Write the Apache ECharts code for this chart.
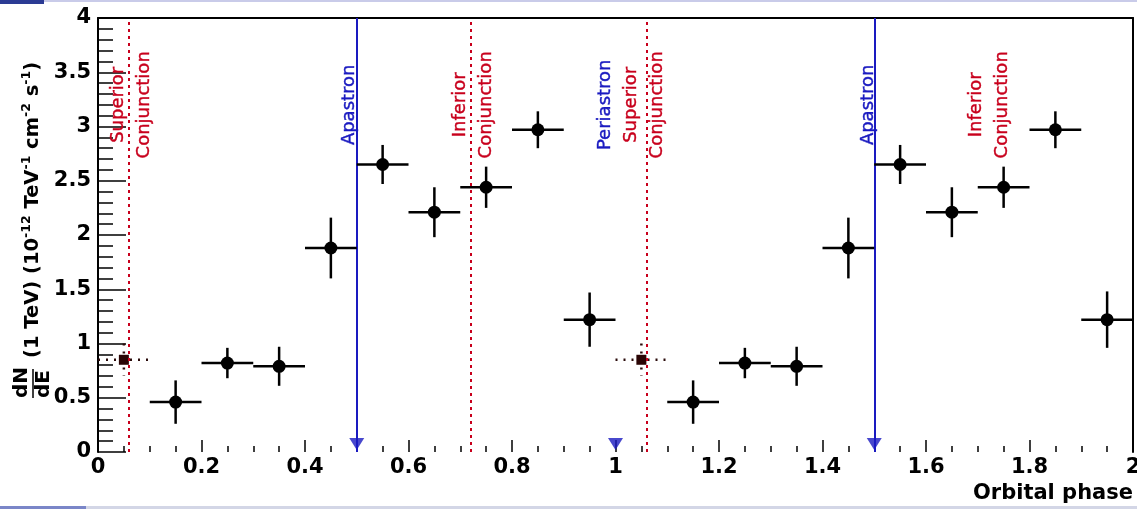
<!DOCTYPE html>
<html>
<head>
<meta charset="utf-8">
<script src="https://cdn.jsdelivr.net/npm/echarts@6/dist/echarts.min.js"></script>
<style>
  html, body { margin: 0; padding: 0; background: #ffffff; }
  #chart { width: 1137px; height: 509px; }
</style>
</head>
<body>
<div id="chart"></div>
<script>
// Phase-folded light curve: differential flux at 1 TeV, plotted over two orbits
const binPhase = [0.15, 0.25, 0.35, 0.45, 0.55, 0.65, 0.75, 0.85, 0.95,
                  1.15, 1.25, 1.35, 1.45, 1.55, 1.65, 1.75, 1.85, 1.95];
const binFlux  = [0.46, 0.82, 0.79, 1.88, 2.65, 2.21, 2.44, 2.97, 1.22,
                  0.46, 0.82, 0.79, 1.88, 2.65, 2.21, 2.44, 2.97, 1.22];
const binFluxErr = [0.20, 0.14, 0.18, 0.28, 0.18, 0.23, 0.19, 0.17, 0.25,
                    0.20, 0.14, 0.18, 0.28, 0.18, 0.23, 0.19, 0.17, 0.26];
const binHalfWidth = 0.05;

// Bins around superior conjunction with sparse coverage
const sparsePhase = [0.05, 1.05];
const sparseFlux = [0.85, 0.85];
const sparseFluxErr = [0.15, 0.15];

// Orbital reference phases
const conjunctionPhases = [0.062, 0.716, 1.062];
const apastronPhases = [0.5, 1.5];
const arrowPhases = [0.5, 1.0, 1.5];

// Rotated annotations
const noteText = ['Superior\nConjunction', 'Apastron', 'Inferior\nConjunction', 'Periastron',
                  'Superior\nConjunction', 'Apastron', 'Inferior\nConjunction'];
const notePhase = [0.065, 0.485, 0.725, 0.980, 1.056, 1.488, 1.722];
const noteIsOrbitPoint = [false, true, false, true, false, true, false];
const noteLevel = 3.2;

const xTicks = { min: 0, max: 2, step: 0.2 };
const yTicks = { min: 0, max: 4, step: 0.5 };

const RED = '#c8001c';
const BLUE = '#1a1ac0';
const FONT = '"DejaVu Sans", "Liberation Sans", sans-serif';

const chart = echarts.init(document.getElementById('chart'), null, { renderer: 'canvas' });

function errorBarItem(dotted, radius) {
  return function (params, api) {
    const x = api.value(0), y = api.value(1), e = api.value(2);
    const c = api.coord([x, y]);
    const l = api.coord([x - binHalfWidth, y]);
    const r = api.coord([x + binHalfWidth, y]);
    const t = api.coord([x, y + e]);
    const b = api.coord([x, y - e]);
    const lineStyle = dotted
      ? { stroke: '#2a0a0a', lineWidth: 2.5, lineDash: [2, 6] }
      : { stroke: '#000', lineWidth: 2.5 };
    const marker = dotted
      ? { type: 'rect', shape: { x: c[0] - 5, y: c[1] - 5, width: 10, height: 10 }, style: { fill: '#2a0505' } }
      : { type: 'circle', shape: { cx: c[0], cy: c[1], r: radius }, style: { fill: '#000' } };
    return {
      type: 'group',
      children: [
        { type: 'line', shape: { x1: l[0], y1: l[1], x2: r[0], y2: r[1] }, style: lineStyle },
        { type: 'line', shape: { x1: t[0], y1: t[1], x2: b[0], y2: b[1] }, style: lineStyle },
        marker
      ]
    };
  };
}

const option = {
  backgroundColor: '#ffffff',
  animation: false,
  grid: { left: 98, right: 4, top: 18, bottom: 57, containLabel: false, outerBoundsMode: 'none' },
  xAxis: [{
    type: 'value',
    min: xTicks.min, max: xTicks.max, interval: xTicks.step,
    name: 'Orbital phase',
    nameLocation: 'end',
    nameGap: 0,
    nameMoveOverlap: false,
    nameTextStyle: { fontFamily: FONT, fontWeight: 'bold', fontSize: 21, color: '#000',
                     align: 'right', verticalAlign: 'top', padding: [31, 0, 0, 0] },
    axisLine: { show: false },
    axisTick: { show: true, inside: true, length: 12, lineStyle: { color: '#000', width: 1.5 } },
    minorTick: { show: true, splitNumber: 4, length: 6, lineStyle: { color: '#000', width: 1.5 } },
    axisLabel: { fontFamily: FONT, fontWeight: 'bold', fontSize: 21, color: '#000', margin: 5 },
    splitLine: { show: false }
  }, {
    type: 'value', position: 'top',
    min: xTicks.min, max: xTicks.max, interval: xTicks.step,
    axisLine: { show: true, onZero: false, lineStyle: { color: '#000', width: 2 } },
    axisTick: { show: false }, axisLabel: { show: false }, splitLine: { show: false }
  }],
  yAxis: [{
    type: 'value',
    min: yTicks.min, max: yTicks.max, interval: yTicks.step,
    axisLine: { show: true, onZero: false, lineStyle: { color: '#000', width: 2 } },
    axisTick: { show: true, inside: true, length: 28, lineStyle: { color: '#000', width: 1.5 } },
    minorTick: { show: true, splitNumber: 5, length: 15, lineStyle: { color: '#000', width: 1.5 } },
    axisLabel: { fontFamily: FONT, fontWeight: 'bold', fontSize: 21, color: '#000', margin: 7 },
    splitLine: { show: false }
  }, {
    type: 'value', position: 'right',
    min: yTicks.min, max: yTicks.max, interval: yTicks.step,
    axisLine: { show: true, onZero: false, lineStyle: { color: '#000', width: 2 } },
    axisTick: { show: false }, axisLabel: { show: false }, splitLine: { show: false }
  }],
  series: [
    {
      name: 'reference lines',
      type: 'line',
      data: [],
      markLine: {
        silent: true,
        symbol: 'none',
        label: { show: false },
        data: conjunctionPhases.map(p => ({ xAxis: p, lineStyle: { color: RED, width: 2, type: [3, 4] } }))
          .concat(apastronPhases.map(p => ({ xAxis: p, lineStyle: { color: BLUE, width: 2, type: 'solid' } })))
      }
    },
    {
      name: 'notes',
      type: 'custom',
      z: 3,
      data: notePhase.map((p, i) => [p, noteLevel, i]),
      renderItem: function (params, api) {
        const i = api.value(2);
        const pt = api.coord([api.value(0), api.value(1)]);
        return {
          type: 'text',
          x: pt[0], y: pt[1],
          rotation: Math.PI / 2,
          style: {
            text: noteText[i],
            fill: noteIsOrbitPoint[i] ? BLUE : RED,
            fontFamily: FONT,
            fontSize: 18,
            lineHeight: 26,
            align: 'center',
            verticalAlign: 'middle',
            stroke: noteIsOrbitPoint[i] ? BLUE : RED,
            lineWidth: 0.4
          }
        };
      }
    },
    {
      name: 'sparse bins',
      type: 'custom',
      z: 4,
      data: sparsePhase.map((p, i) => [p, sparseFlux[i], sparseFluxErr[i]]),
      renderItem: errorBarItem(true, 5)
    },
    {
      name: 'flux',
      type: 'custom',
      z: 5,
      data: binPhase.map((p, i) => [p, binFlux[i], binFluxErr[i]]),
      renderItem: errorBarItem(false, 6.5)
    },
    {
      name: 'orbit markers',
      type: 'scatter',
      z: 6,
      symbol: 'triangle',
      symbolRotate: 180,
      symbolSize: [15, 12],
      symbolOffset: [0, -8],
      itemStyle: { color: BLUE },
      data: arrowPhases.map(p => [p, 0])
    }
  ],
  graphic: [
    // window edge strips
    { type: 'rect', shape: { x: 0, y: 0, width: 1137, height: 2 }, style: { fill: '#c9cbe9' }, z: 100 },
    { type: 'rect', shape: { x: 0, y: 0, width: 44, height: 4 }, style: { fill: '#2b3b94' }, z: 100 },
    { type: 'rect', shape: { x: 0, y: 506, width: 1137, height: 3 }, style: { fill: '#d3d6e6' }, z: 100 },
    { type: 'rect', shape: { x: 0, y: 506, width: 86, height: 3 }, style: { fill: '#7a86c8' }, z: 100 },
    // y-axis title: dN/dE (1 TeV) (10^-12 TeV^-1 cm^-2 s^-1)
    {
      type: 'group',
      x: 33, y: 398,
      rotation: Math.PI / 2,
      children: [
        { type: 'text', x: 0, y: -11, style: { text: 'dN', fontFamily: FONT, fontWeight: 'bold', fontSize: 20, fill: '#000', verticalAlign: 'middle' } },
        { type: 'text', x: 0, y: 11, style: { text: 'dE', fontFamily: FONT, fontWeight: 'bold', fontSize: 20, fill: '#000', verticalAlign: 'middle' } },
        { type: 'line', shape: { x1: 0, y1: 0, x2: 29, y2: 0 }, style: { stroke: '#000', lineWidth: 1.5 } },
        {
          type: 'text', x: 40, y: 0,
          style: {
            text: '{b|(1 TeV) (10}{s|-12}{b| TeV}{s|-1}{b| cm}{s|-2}{b| s}{s|-1}{b|)}',
            verticalAlign: 'middle',
            rich: {
              b: { fontFamily: FONT, fontWeight: 'bold', fontSize: 19.5, lineHeight: 26, fill: '#000' },
              s: { fontFamily: FONT, fontWeight: 'bold', fontSize: 12.5, lineHeight: 26, fill: '#000', verticalAlign: 'top' }
            }
          }
        }
      ]
    }
  ]
};

chart.setOption(option);
</script>
</body>
</html>
